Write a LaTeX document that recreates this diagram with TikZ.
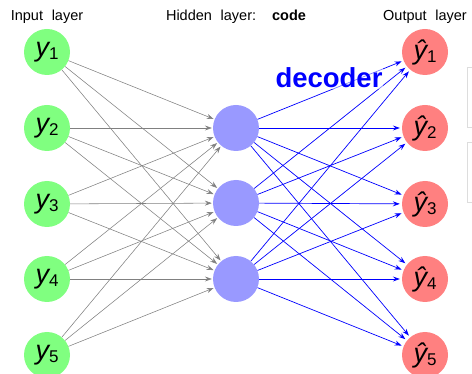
\documentclass[tikz,border=0pt]{standalone}
\usepackage{fontspec}
\setmainfont{Liberation Sans}
\usetikzlibrary{arrows.meta}
\definecolor{ingreen}{HTML}{80FF80}
\definecolor{hidblue}{HTML}{9999FF}
\definecolor{outred}{HTML}{FF8080}
\definecolor{boxgray}{HTML}{DDDDDD}
\newcommand{\lbl}[2]{{\fontsize{27}{27}\selectfont\itshape #1}\raisebox{-3.5pt}{\fontsize{17}{17}\selectfont #2}}
\begin{document}
\begin{tikzpicture}[x=1pt,y=-1pt,
  unit/.style={circle,minimum size=46pt,inner sep=0pt,draw=none},
  inp/.style={unit,fill=ingreen},
  hid/.style={unit,fill=hidblue},
  outp/.style={unit,fill=outred},
  title/.style={anchor=base,font=\fontsize{14.5}{15}\selectfont,inner sep=0pt},
  garrow/.style={draw=gray,line width=0.55pt,-{Stealth[length=7pt,width=5pt,inset=2.5pt]},shorten >=1pt},
  barrow/.style={draw=blue,line width=0.7pt,-{Stealth[length=7pt,width=5pt,inset=2.5pt]},shorten >=2pt}]
\useasboundingbox (0,0) rectangle (472,374);
% side boxes (cut off)
\draw[boxgray,line width=0.8pt] (467,67) rectangle (490,127);
\draw[boxgray,line width=0.8pt] (467,142) rectangle (490,202);
% titles
\node[title] (tin) at (47,21) {Input\hspace{0.6em}layer};
\node[title] (thid) at (236,21) {Hidden\hspace{0.6em}layer:\hspace{1.1em}\textbf{code}};
\node[title] (tout) at (425,21) {Output\hspace{0.6em}layer};
% nodes
\node[inp] (i1) at (47,52) {\lbl{y}{1}};
\node[inp] (i2) at (47,128) {\lbl{y}{2}};
\node[inp] (i3) at (47,204) {\lbl{y}{3}};
\node[inp] (i4) at (47,279) {\lbl{y}{4}};
\node[inp] (i5) at (47,355) {\lbl{y}{5}};
\node[hid] (h1) at (236,128) {};
\node[hid] (h2) at (236,203) {};
\node[hid] (h3) at (236,279) {};
\node[outp] (o1) at (425,52) {\lbl{ŷ}{1}};
\node[outp] (o2) at (425,128) {\lbl{ŷ}{2}};
\node[outp] (o3) at (425,204) {\lbl{ŷ}{3}};
\node[outp] (o4) at (425,279) {\lbl{ŷ}{4}};
\node[outp] (o5) at (425,355) {\lbl{ŷ}{5}};
% connectors
\foreach \i in {1,...,5}{
  \foreach \j in {1,2,3}{
    \draw[garrow] (i\i) -- (h\j);
  }
}
\foreach \j in {1,2,3}{
  \foreach \k in {1,...,5}{
    \draw[barrow] (h\j) -- (o\k);
  }
}
% decoder label
\node[anchor=base,inner sep=1pt,fill=white,fill opacity=0.5,text opacity=1,text=blue,
  font=\fontsize{27.5}{28}\selectfont\bfseries] (dec) at (329,88) {decoder};
\end{tikzpicture}
\end{document}
